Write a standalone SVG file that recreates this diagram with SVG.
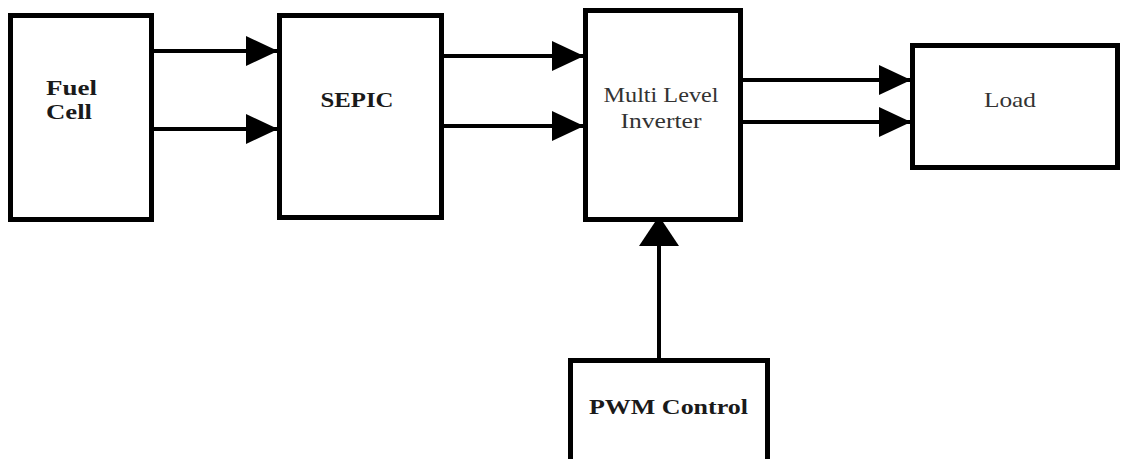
<svg xmlns="http://www.w3.org/2000/svg" width="1121" height="459" viewBox="0 0 1121 459">
<style>
.box{fill:#fff;stroke:#000;stroke-width:5}
.wire{fill:none;stroke:#000;stroke-width:4}
.b{font-family:"Liberation Serif","Times New Roman",serif;font-weight:bold;font-size:21px;fill:#1a1a1a}
.r{font-family:"Liberation Serif","Times New Roman",serif;font-size:21px;fill:#333}
</style>
<defs>
<marker id="ah" markerUnits="userSpaceOnUse" viewBox="0 0 32 30" refX="32" refY="15" markerWidth="32" markerHeight="30" orient="auto">
<path d="M0,0 L32,15 L0,30 Z" fill="#000"/>
</marker>
<marker id="ahv" markerUnits="userSpaceOnUse" viewBox="0 0 27 40" refX="27" refY="20" markerWidth="27" markerHeight="40" orient="auto">
<path d="M0,0 L27,18 L27,22 L0,40 Z" fill="#000"/>
</marker>
</defs>
<rect width="1121" height="459" fill="#fff"/>
<g id="connectors">
<line class="wire" x1="153" y1="51" x2="278" y2="51" marker-end="url(#ah)"/>
<line class="wire" x1="153" y1="129" x2="278" y2="129" marker-end="url(#ah)"/>
<line class="wire" x1="443" y1="56" x2="584" y2="56" marker-end="url(#ah)"/>
<line class="wire" x1="443" y1="126" x2="584" y2="126" marker-end="url(#ah)"/>
<line class="wire" x1="742" y1="80" x2="911" y2="80" marker-end="url(#ah)"/>
<line class="wire" x1="742" y1="122" x2="911" y2="122" marker-end="url(#ah)"/>
<line class="wire" x1="659" y1="359" x2="659" y2="219" marker-end="url(#ahv)"/>
</g>
<g id="fuel-cell">
<rect class="box" x="10.5" y="15.5" width="141" height="204"/>
<text class="b" x="46" y="95" textLength="51" lengthAdjust="spacingAndGlyphs">Fuel</text>
<text class="b" x="46" y="119" textLength="46" lengthAdjust="spacingAndGlyphs">Cell</text>
</g>
<g id="sepic">
<rect class="box" x="279.5" y="15.5" width="162" height="202"/>
<text class="b" x="357" y="107" text-anchor="middle" textLength="73" lengthAdjust="spacingAndGlyphs">SEPIC</text>
</g>
<g id="mli">
<rect class="box" x="585.5" y="10.5" width="155" height="209"/>
<text class="r" x="661" y="102" text-anchor="middle" textLength="115" lengthAdjust="spacingAndGlyphs">Multi Level</text>
<text class="r" x="661" y="128" text-anchor="middle" textLength="81" lengthAdjust="spacingAndGlyphs">Inverter</text>
</g>
<g id="load">
<rect class="box" x="912.5" y="45.5" width="205" height="122"/>
<text class="r" x="1010" y="107" text-anchor="middle" textLength="52" lengthAdjust="spacingAndGlyphs">Load</text>
</g>
<g id="pwm">
<path class="box" d="M570.5,462 V360.5 H767.5 V462"/>
<text class="b" x="668.5" y="414" text-anchor="middle" textLength="159" lengthAdjust="spacingAndGlyphs">PWM Control</text>
</g>
</svg>
